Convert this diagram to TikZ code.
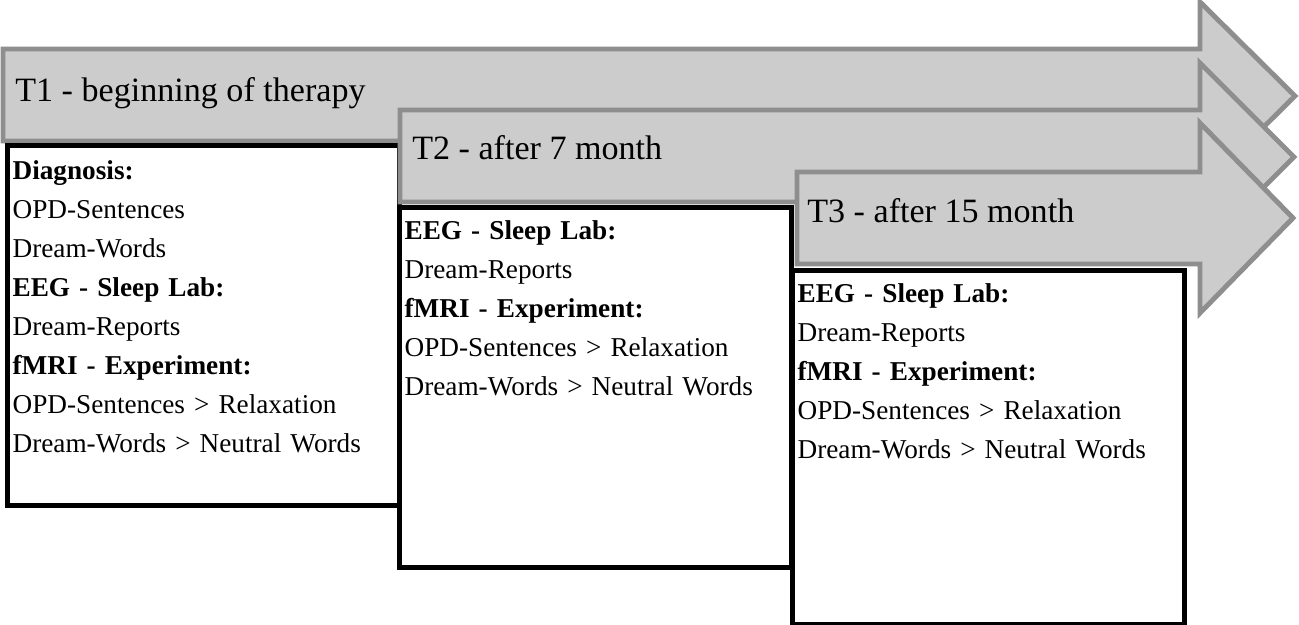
\documentclass[tikz,border=0pt]{standalone}
\usepackage{fontspec}
\setmainfont{Liberation Serif}
\usepackage{tikz}
\usetikzlibrary{positioning,calc}
\definecolor{BARFILL}{HTML}{CCCCCC}
\definecolor{BARDRAW}{HTML}{8E8E8E}
\tikzstyle{ARROW_1} = [draw=BARDRAW, fill=BARFILL, line width=2.8pt, line join=miter]
\tikzstyle{TITLE_1} = [anchor=base west, inner sep=0pt, font=\fontsize{19.4}{24}\selectfont]
\tikzstyle{BOX_1} = [rectangle, draw=black, fill=white, line width=3pt, anchor=north west, inner xsep=0.1cm, inner ysep=0pt, text width=7.64cm, align=left, font=\fontsize{15.5}{22.2}\selectfont]

\begin{document}
\begin{tikzpicture}[x=0.02cm, y=-0.02cm]
% Define
\useasboundingbox (0,0) rectangle (1299,625);
% T1
\path [ARROW_1] (3,49) -- (1200,49) -- (1200,2) -- (1295,96) -- (1200,190) -- (1200,141) -- (3,141) -- cycle;
\node [TITLE_1] (T1) at (15,102) {T1 - beginning of therapy};
\node [BOX_1, text height=19.3pt, text depth=185.5pt] (BOX_T1) at (5,143) {\textbf{Diagnosis:}\\ OPD-Sentences\\ Dream-Words\\ \textbf{EEG - Sleep Lab:}\\ Dream-Reports\\ \textbf{fMRI - Experiment:}\\ OPD-Sentences > Relaxation\\ Dream-Words > Neutral Words};
% T2
\path [ARROW_1] (400,110) -- (1200,110) -- (1200,63) -- (1294,157) -- (1200,251) -- (1200,202) -- (400,202) -- cycle;
\node [TITLE_1] (T2) at (412,160) {T2 - after 7 month};
\node [BOX_1, text height=18.2pt, text depth=186.7pt] (BOX_T2) at (397,205) {\textbf{EEG - Sleep Lab:}\\ Dream-Reports\\ \textbf{fMRI - Experiment:}\\ OPD-Sentences > Relaxation\\ Dream-Words > Neutral Words};
% T3
\path [ARROW_1] (797,172) -- (1200,172) -- (1200,123) -- (1293,218) -- (1200,313) -- (1200,264) -- (797,264) -- cycle;
\node [TITLE_1] (T3) at (807,222) {T3 - after 15 month};
\node [BOX_1, text height=18.2pt, text depth=183.2pt] (BOX_T3) at (790,268) {\textbf{EEG - Sleep Lab:}\\ Dream-Reports\\ \textbf{fMRI - Experiment:}\\ OPD-Sentences > Relaxation\\ Dream-Words > Neutral Words};
\end{tikzpicture}
\end{document}
